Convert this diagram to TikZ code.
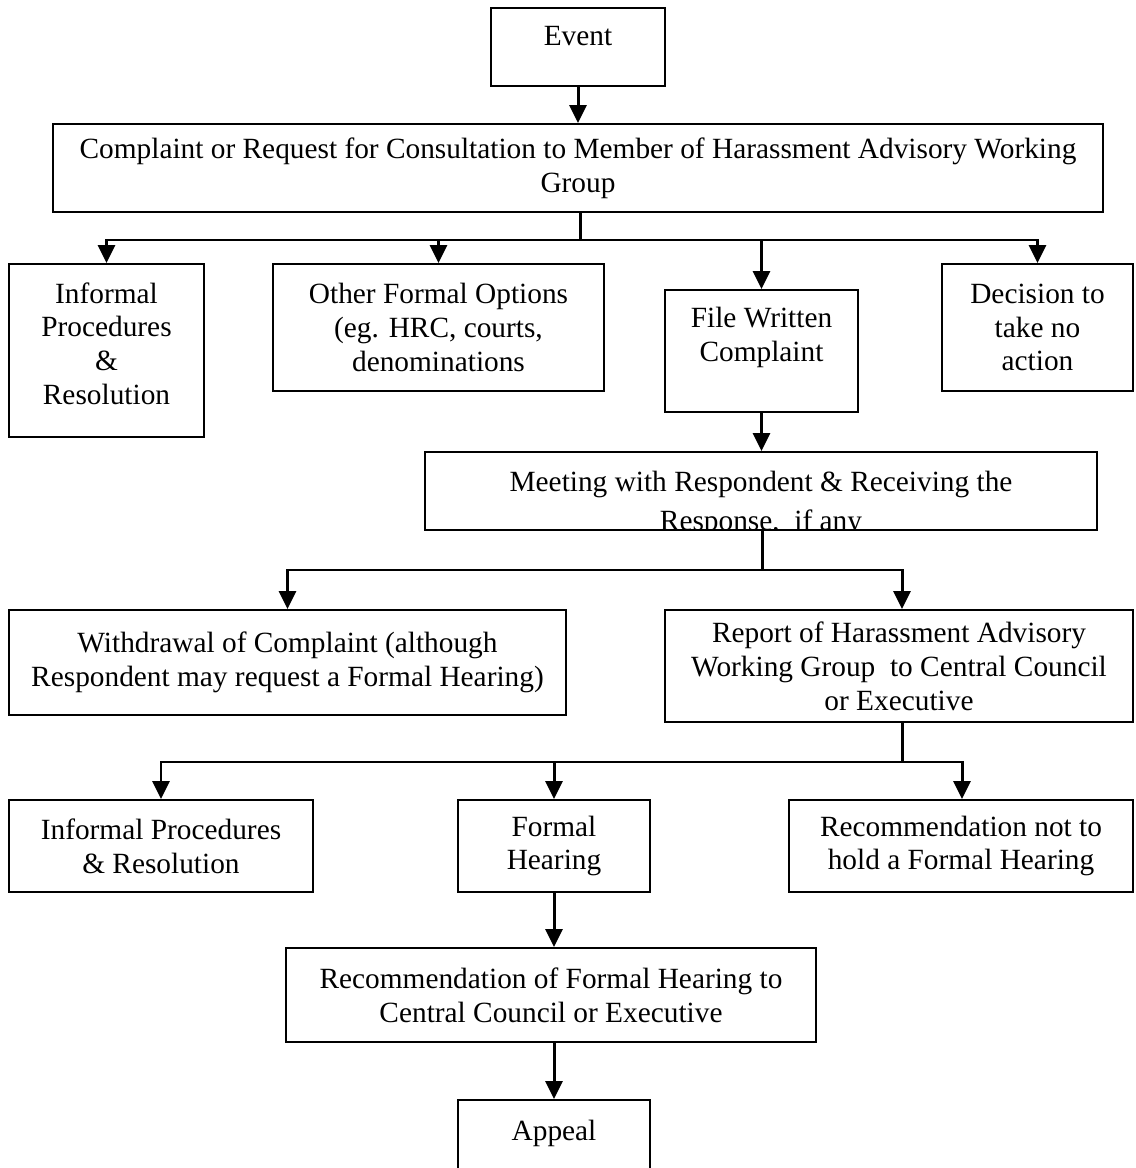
\documentclass[tikz,border=0pt]{standalone}
\usepackage{fontspec}
\setmainfont{Liberation Serif}
\usetikzlibrary{arrows.meta}

\begin{document}
\begin{tikzpicture}[x=0.02cm, y=-0.02cm,
    box/.style={rectangle, draw=black, line width=1.1pt, align=center, inner sep=2pt,
        font=\fontsize{16.7pt}{19.3pt}\selectfont},
    link/.style={line width=1.7pt},
    >={Triangle[width=0.34cm, length=0.36cm]}]
    \clip (0, 0) rectangle (1135, 1168);

    \node[box, minimum width=3.48cm, minimum height=1.56cm] (event) at (578, 47) {Event\\[-0.25cm]};
    \node[box, minimum width=21cm, minimum height=1.76cm] (comp) at (578, 168) {Complaint or Request for Consultation to Member of Harassment Advisory Working\\Group};

    \node[box, minimum width=3.9cm, minimum height=3.46cm] (inf1) at (106.5, 350.5) {Informal\\Procedures\\\&\\Resolution\\[-0.4cm]};
    \node[box, minimum width=6.62cm, minimum height=2.54cm] (other) at (438.5, 327.5) {Other Formal Options\\(eg. HRC, courts,\\denominations};
    \node[box, minimum width=3.86cm, minimum height=2.44cm] (file) at (761.5, 351) {File Written\\Complaint\\ \mbox{}};
    \node[box, minimum width=3.82cm, minimum height=2.54cm] (noact) at (1037.5, 327.5) {Decision to\\take no\\action};

    % text runs past the bottom of this box
    \node[box, minimum width=13.44cm, minimum height=1.56cm] (meet) at (761, 491) {};
    \begin{scope}
        \clip (meet.south west) rectangle (meet.north east);
        \node[box, draw=none, inner sep=0pt] (meettext) at (761, 504) {Meeting with Respondent \& Receiving the\\[0.12cm]Response,~ if any};
    \end{scope}

    \node[box, minimum width=11.14cm, minimum height=2.1cm] (withd) at (287.5, 662.5) {Withdrawal of Complaint (although\\Respondent may request a Formal Hearing)};
    \node[box, minimum width=9.36cm, minimum height=2.24cm] (report) at (899, 666) {Report of Harassment Advisory\\Working Group~ to Central Council\\or Executive};

    \node[box, minimum width=6.08cm, minimum height=1.84cm] (inf2) at (161, 846) {Informal Procedures\\\& Resolution};
    \node[box, minimum width=3.84cm, minimum height=1.84cm] (formal) at (554, 846) {Formal\\Hearing};
    \node[box, minimum width=6.88cm, minimum height=1.84cm] (nohear) at (961, 846) {Recommendation not to\\hold a Formal Hearing};

    \node[box, minimum width=10.6cm, minimum height=1.88cm] (recom) at (551, 995) {Recommendation of Formal Hearing to\\Central Council or Executive};
    \node[box, minimum width=3.84cm, minimum height=1.88cm] (appeal) at (554, 1147) {Appeal\\ \mbox{}};

    \coordinate (j1) at (580, 240);
    \coordinate (j2) at (762, 570);
    \coordinate (j3) at (902, 762);

    \draw[link, ->] (event) to (comp);

    \draw[link] (comp.south -| j1) to (j1);
    \draw[link, ->] (j1) -| (inf1);
    \draw[link, ->] (j1) -| (other);
    \draw[link, ->] (j1) -| (file);
    \draw[link, ->] (j1) -| (noact);

    \draw[link, ->] (file) to (file |- meet.north);

    \draw[link] (meet.south -| j2) to (j2);
    \draw[link, ->] (j2) -| (withd);
    \draw[link, ->] (j2) -| (report.north -| j3);

    \draw[link] (report.south -| j3) to (j3);
    \draw[link, ->] (j3) -| (inf2);
    \draw[link, ->] (j3) -| (formal);
    \draw[link, ->] (j3) -| (nohear.north -| 962, 0);

    \draw[link, ->] (formal) to (formal |- recom.north);
    \draw[link, ->] (recom.south -| appeal) to (appeal);
\end{tikzpicture}
\end{document}
